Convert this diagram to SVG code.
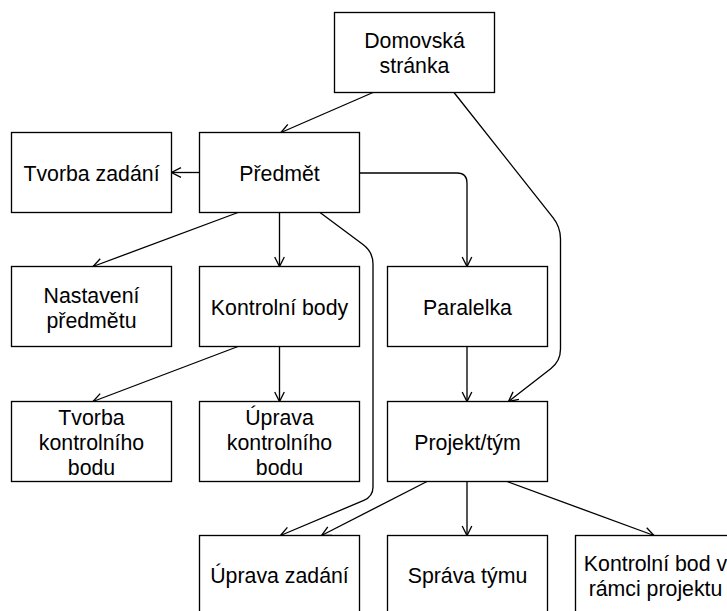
<svg xmlns="http://www.w3.org/2000/svg" width="727" height="611" viewBox="0 0 727 611">
  <style>
    .box { fill: #ffffff; stroke: #000000; stroke-width: 1.33; }
    .lbl { font-family: "Liberation Sans", Arial, sans-serif; font-size: 21.3px; fill: #000000; text-anchor: middle; }
    .edge { fill: none; stroke: #000000; stroke-width: 1.33; marker-end: url(#open); }
  </style>
  <defs>
    <marker id="open" markerUnits="userSpaceOnUse" markerWidth="14" markerHeight="14" viewBox="-12 -7 14 14" refX="0" refY="0" orient="auto">
      <path d="M-9.5,-4.8 L0,0 L-9.5,4.8" fill="none" stroke="#000000" stroke-width="1.33"/>
    </marker>
  </defs>
  <rect width="727" height="611" fill="#ffffff"/>

  <g id="connectors">
    <path class="edge" d="M373,92.5 L281,132.5"/>
    <path class="edge" d="M454,92.5 L553,217.6 Q560.5,227 560.5,239 L560.5,349 Q560.5,361 551,368.4 L508.5,401.5"/>
    <path class="edge" d="M199.5,172.5 L171.5,172.5"/>
    <path class="edge" d="M359.5,173 L457,173 Q467,173 467,183 L467,266.5"/>
    <path class="edge" d="M238,212.5 L93,266.5"/>
    <path class="edge" d="M279.5,212.5 L279.5,266.5"/>
    <path class="edge" d="M320,212.5 L363,244.5 Q373,252 373,264 L373,487 Q373,496.5 363.8,500.4 L280.5,535.5"/>
    <path class="edge" d="M238,346.5 L93,401.5"/>
    <path class="edge" d="M279.5,346.5 L279.5,401.5"/>
    <path class="edge" d="M467,346.5 L467,401.5"/>
    <path class="edge" d="M427,481.5 L321.5,535.5"/>
    <path class="edge" d="M467,481.5 L467,535.5"/>
    <path class="edge" d="M507,481.5 L654,535.5"/>
  </g>

  <g id="domovska-stranka">
    <rect class="box" x="334.5" y="12.5" width="160" height="80"/>
    <text class="lbl" x="414.5" y="47.5">Domovská</text>
    <text class="lbl" x="414.5" y="72.5">stránka</text>
  </g>
  <g id="tvorba-zadani">
    <rect class="box" x="11.5" y="132.5" width="160" height="80"/>
    <text class="lbl" x="91.5" y="180.5">Tvorba zadání</text>
  </g>
  <g id="predmet">
    <rect class="box" x="199.5" y="132.5" width="160" height="80"/>
    <text class="lbl" x="279.5" y="180.5">Předmět</text>
  </g>
  <g id="nastaveni-predmetu">
    <rect class="box" x="11.5" y="266.5" width="160" height="80"/>
    <text class="lbl" x="91.5" y="302.5">Nastavení</text>
    <text class="lbl" x="91.5" y="327.5">předmětu</text>
  </g>
  <g id="kontrolni-body">
    <rect class="box" x="199.5" y="266.5" width="160" height="80"/>
    <text class="lbl" x="279.5" y="315">Kontrolní body</text>
  </g>
  <g id="paralelka">
    <rect class="box" x="387.5" y="266.5" width="160" height="80"/>
    <text class="lbl" x="467.5" y="315">Paralelka</text>
  </g>
  <g id="tvorba-kontrolniho-bodu">
    <rect class="box" x="11.5" y="401.5" width="160" height="80"/>
    <text class="lbl" x="91.5" y="424.5">Tvorba</text>
    <text class="lbl" x="91.5" y="449.5">kontrolního</text>
    <text class="lbl" x="91.5" y="474.5">bodu</text>
  </g>
  <g id="uprava-kontrolniho-bodu">
    <rect class="box" x="199.5" y="401.5" width="160" height="80"/>
    <text class="lbl" x="279.5" y="424.5">Úprava</text>
    <text class="lbl" x="279.5" y="449.5">kontrolního</text>
    <text class="lbl" x="279.5" y="474.5">bodu</text>
  </g>
  <g id="projekt-tym">
    <rect class="box" x="387.5" y="401.5" width="160" height="80"/>
    <text class="lbl" x="467.5" y="449.5">Projekt/tým</text>
  </g>
  <g id="uprava-zadani">
    <rect class="box" x="199.5" y="535.5" width="160" height="80"/>
    <text class="lbl" x="279.5" y="582.5">Úprava zadání</text>
  </g>
  <g id="sprava-tymu">
    <rect class="box" x="387.5" y="535.5" width="160" height="80"/>
    <text class="lbl" x="467.5" y="582.5">Správa týmu</text>
  </g>
  <g id="kontrolni-bod-projektu">
    <rect class="box" x="575.5" y="535.5" width="160" height="80"/>
    <text class="lbl" x="655.5" y="571">Kontrolní bod v</text>
    <text class="lbl" x="655.5" y="595.5">rámci projektu</text>
  </g>
</svg>
